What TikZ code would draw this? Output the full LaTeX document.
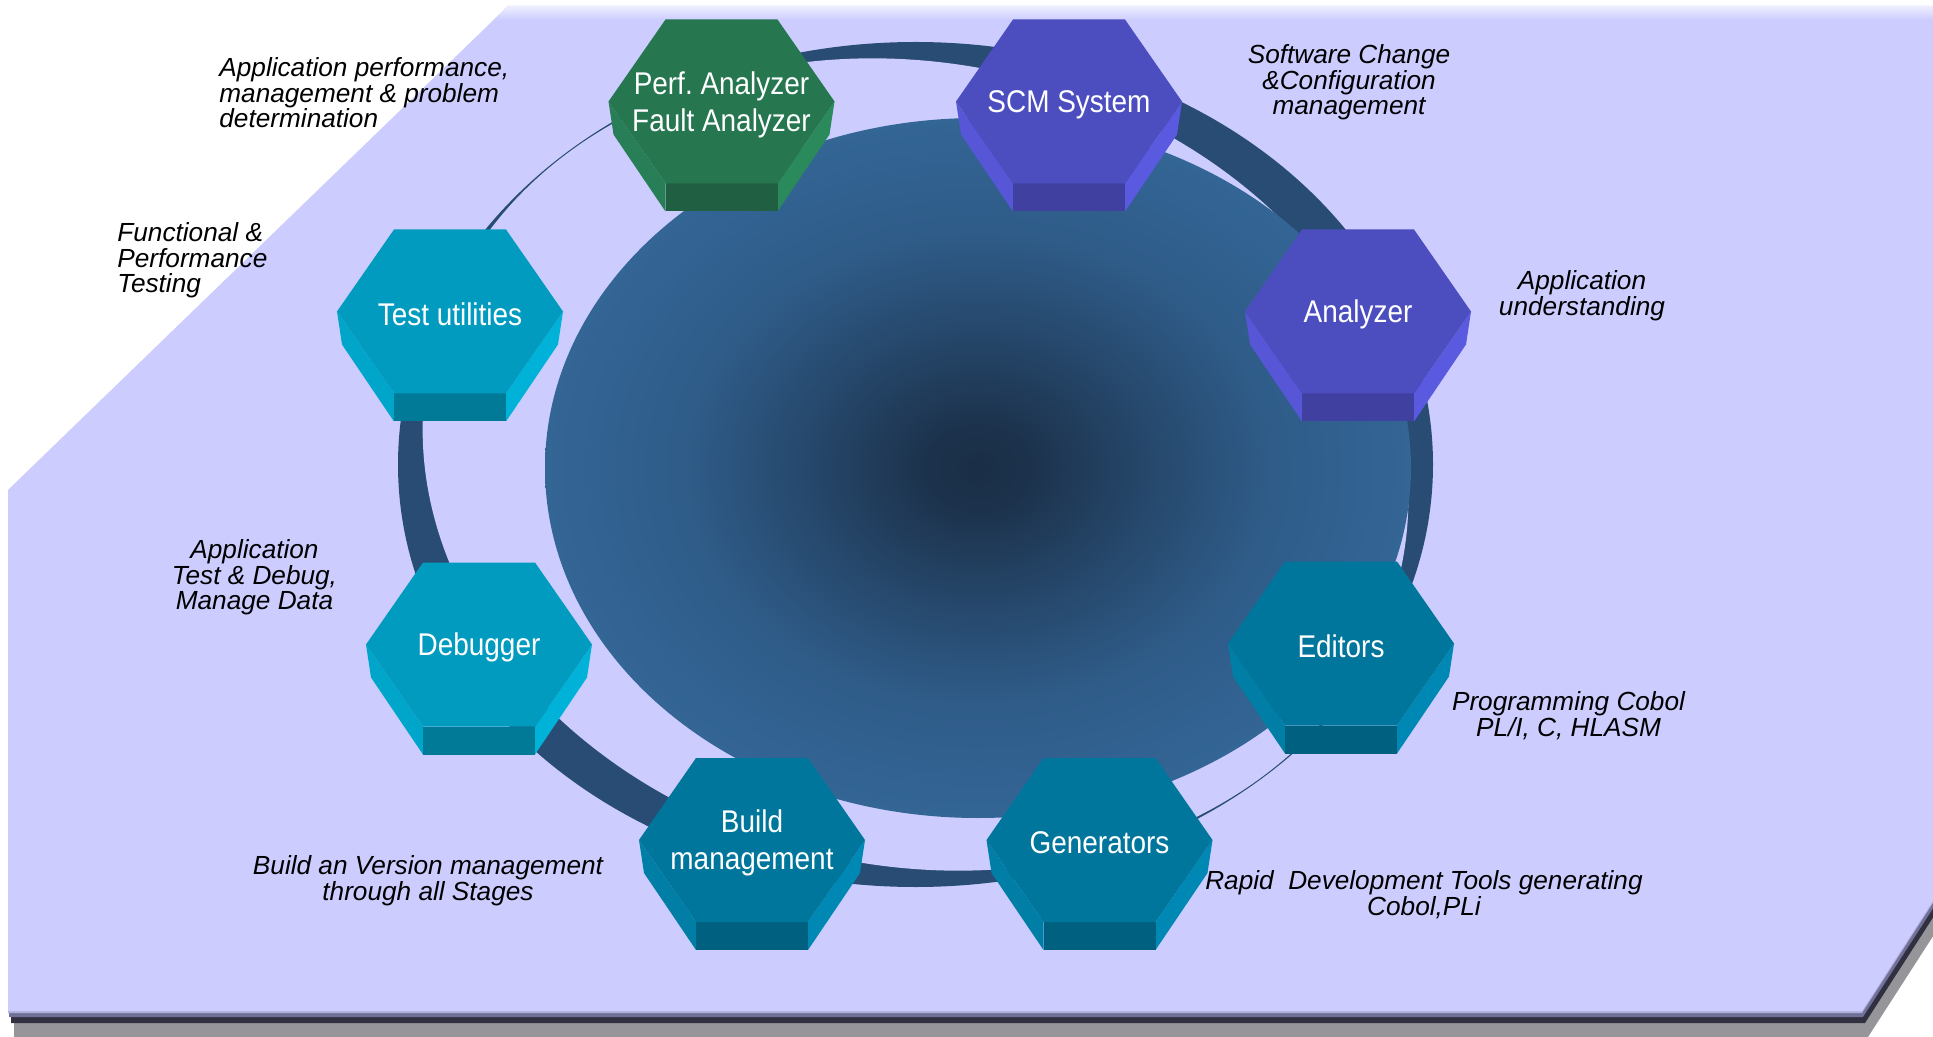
\documentclass[tikz,border=0pt]{standalone}
\usepackage{fontspec}
\setmainfont{Liberation Sans}
\newfontfamily\hexfont[FakeStretch=0.89]{Liberation Sans}
\definecolor{lav}{RGB}{204,204,255}
\definecolor{lavtop}{RGB}{238,238,255}
\definecolor{shgray}{RGB}{150,150,154}
\definecolor{shdark}{RGB}{48,48,64}
\definecolor{shmid}{RGB}{112,112,152}
\definecolor{shlight}{RGB}{176,176,220}
\definecolor{ringc}{RGB}{40,76,115}
\definecolor{dcore}{RGB}{26,46,70}
\definecolor{dcore2}{RGB}{28,50,76}
\definecolor{dmid}{RGB}{38,72,108}
\definecolor{dmid2}{RGB}{47,92,137}
\definecolor{dedge}{RGB}{51,101,149}
% light teal
\definecolor{ltface}{RGB}{0,155,191}
\definecolor{ltleft}{RGB}{0,166,202}
\definecolor{ltright}{RGB}{0,178,216}
\definecolor{ltbase}{RGB}{0,122,150}
% dark teal
\definecolor{dtface}{RGB}{0,118,156}
\definecolor{dtleft}{RGB}{0,126,166}
\definecolor{dtright}{RGB}{0,136,180}
\definecolor{dtbase}{RGB}{0,96,128}
% green
\definecolor{gface}{RGB}{38,118,80}
\definecolor{gleft}{RGB}{40,126,86}
\definecolor{gright}{RGB}{42,138,92}
\definecolor{gbase}{RGB}{32,95,66}
% purple
\definecolor{pface}{RGB}{76,78,192}
\definecolor{pleft}{RGB}{86,86,214}
\definecolor{pright}{RGB}{90,90,224}
\definecolor{pbase}{RGB}{64,64,160}
\pgfdeclareradialshading{diskshade}{\pgfpoint{0bp}{0bp}}{color(0bp)=(dcore); color(3bp)=(dcore2); color(10bp)=(dmid); color(17bp)=(dmid2); color(25bp)=(dedge); color(50bp)=(dedge)}
\newcommand\drawhex[8]{%
  \fill[#5] ({#2-113},{#3}) -- ({#2-108},{#3+33}) -- ({#2-56},{#3+110}) -- ({#2-56},{#3+82}) -- cycle;
  \fill[#6] ({#2+113},{#3}) -- ({#2+108},{#3+33}) -- ({#2+56},{#3+110}) -- ({#2+56},{#3+82}) -- cycle;
  \fill[#7] ({#2-56},{#3+82}) rectangle ({#2+56},{#3+110});
  \fill[#4] ({#2-56},{#3-82}) -- ({#2+56},{#3-82}) -- ({#2+113},{#3}) -- ({#2+56},{#3+82}) -- ({#2-56},{#3+82}) -- ({#2-113},{#3}) -- cycle;
  \node[hexlabel] (#1) at (#2,{#3+3}) {#8};
}
\begin{document}
\begin{tikzpicture}[x=0.5pt,y=-0.5pt,
  hexlabel/.style={text=white, font=\hexfont\fontsize{15.7}{18.5}\selectfont, align=center, inner sep=0pt},
  note/.style={text=black, font=\itshape\fontsize{13.1}{12.9}\selectfont, align=center, inner sep=0pt}]
\useasboundingbox (0,0) rectangle (1933,1037);
\fill[white] (0,0) rectangle (1933,1037);
% background slab with shadow
\begin{scope}[shift={(6,26)}]
  \fill[shgray] (508,6) -- (1940,6) -- (1940,890) -- (1862,1011) -- (8,1011) -- (8,490) -- cycle;
\end{scope}
\begin{scope}[shift={(3,12)}]
  \fill[shdark] (508,6) -- (1940,6) -- (1940,890) -- (1862,1011) -- (8,1011) -- (8,490) -- cycle;
\end{scope}
\begin{scope}[shift={(1,6)}]
  \fill[shmid] (508,6) -- (1940,6) -- (1940,890) -- (1862,1011) -- (8,1011) -- (8,490) -- cycle;
\end{scope}
\begin{scope}[shift={(0,2)}]
  \fill[shlight] (508,6) -- (1940,6) -- (1940,890) -- (1862,1011) -- (8,1011) -- (8,490) -- cycle;
\end{scope}
\fill[lav] (508,6) -- (1940,6) -- (1940,890) -- (1862,1011) -- (8,1011) -- (8,490) -- cycle;
\begin{scope}
  \clip (508,6) -- (1940,6) -- (1940,890) -- (1862,1011) -- (8,1011) -- (8,490) -- cycle;
  \shade[top color=lavtop, bottom color=lav] (0,6) rectangle (1933,20);
\end{scope}
% ring
\fill[ringc] (915.5,464.5) ellipse [x radius=517.5, y radius=422.5];
\fill[lav, rotate around={-12:(915.5,464.5)}] (915.5,464.5) ellipse [x radius=496.5, y radius=401.5];
% central disk
\shade[shading=diskshade] (978,468) ellipse [x radius=433, y radius=350];
% hexagons
\drawhex{perf}{721.5}{101.5}{gface}{gleft}{gright}{gbase}{Perf.\ Analyzer\\Fault Analyzer}
\drawhex{scm}{1069}{101.5}{pface}{pleft}{pright}{pbase}{SCM System}
\drawhex{test}{450}{311.5}{ltface}{ltleft}{ltright}{ltbase}{Test utilities}
\drawhex{analyzer}{1358}{311.5}{pface}{pleft}{pright}{pbase}{Analyzer}
\drawhex{debugger}{479}{644.5}{ltface}{ltleft}{ltright}{ltbase}{Debugger}
\drawhex{editors}{1341}{643.5}{dtface}{dtleft}{dtright}{dtbase}{Editors}
\drawhex{build}{752}{840}{dtface}{dtleft}{dtright}{dtbase}{Build\\management}
\drawhex{generators}{1099.5}{840}{dtface}{dtleft}{dtright}{dtbase}{Generators}
% annotations
\node[note, align=left, anchor=north west] (n1) at (219,57) {Application performance,\\management \& problem\\determination};
\node[note, align=left, anchor=north west] (n2) at (117,222) {Functional \&\\Performance\\Testing};
\node[note, anchor=north] (n3) at (254.5,539) {Application\\Test \& Debug,\\Manage Data};
\node[note, anchor=north] (n4) at (428,855) {Build an Version management\\through all Stages};
\node[note, anchor=north] (n5) at (1349,44) {Software Change\\\&Configuration\\management};
\node[note, anchor=north] (n6) at (1582,270) {Application\\understanding};
\node[note, anchor=north] (n7) at (1568.5,691) {Programming Cobol\\PL/I, C, HLASM};
\node[note, anchor=north] (n8) at (1424,870) {Rapid\ \ Development Tools generating\\Cobol,PLi};
\end{tikzpicture}
\end{document}
